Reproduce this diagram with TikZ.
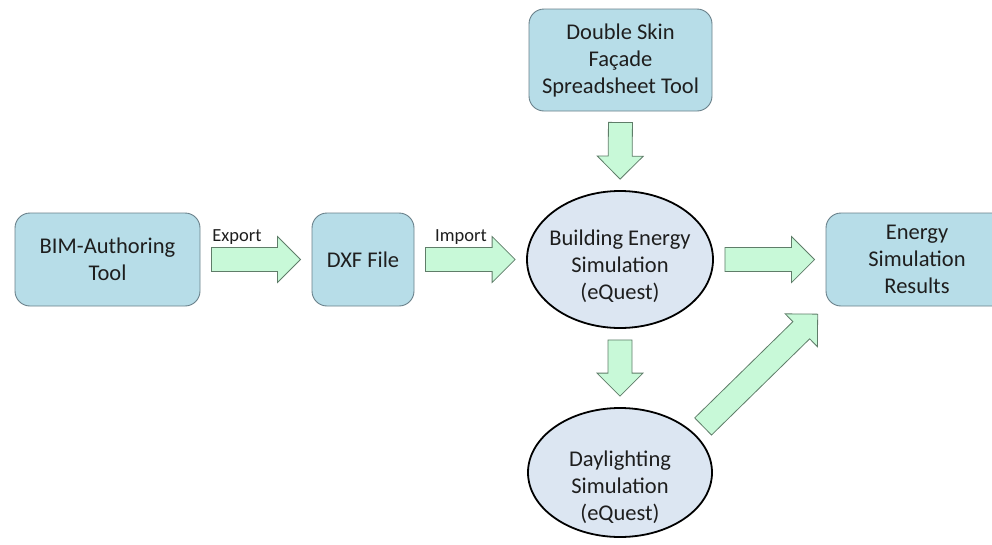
\documentclass[tikz,border=0pt]{standalone}
\usepackage{fontspec}
\setmainfont{Carlito}
\usepackage{tikz}
\usetikzlibrary{shapes,calc,positioning}
\usepackage{xcolor}

\definecolor{boxfill}{RGB}{183,221,232}
\definecolor{boxedge}{RGB}{105,128,138}
\definecolor{ovalfill}{RGB}{220,230,242}
\definecolor{mint}{RGB}{200,249,216}
\definecolor{mintedge}{RGB}{95,125,105}
\definecolor{ink}{RGB}{30,30,30}

% block arrow between two anchors
\newcommand{\fatarrow}[2]{%
  \coordinate (fa-s) at ($(#1)!11pt!(#2)$);
  \coordinate (fa-t) at ($(#2)!11pt!(#1)$);
  \coordinate (fa-h) at ($(fa-t)!23pt!(fa-s)$);
  \filldraw[fat] ($(fa-s)!12pt!90:(fa-t)$) -- ($(fa-h)!12pt!90:(fa-t)$)
    -- ($(fa-h)!23pt!90:(fa-t)$) -- (fa-t) -- ($(fa-h)!23pt!-90:(fa-t)$)
    -- ($(fa-h)!12pt!-90:(fa-t)$) -- ($(fa-s)!12pt!-90:(fa-t)$) -- cycle;
}

\begin{document}
\begin{tikzpicture}[x=1pt,y=-1pt,
    box/.style={draw=boxedge,fill=boxfill,rounded corners=15pt,line width=0.9pt,
      align=center,text=ink,font=\fontsize{22.5}{27}\selectfont},
    oval/.style={ellipse,draw=black,line width=1.8pt,fill=ovalfill},
    ovaltext/.style={align=center,text=ink,font=\fontsize{22.5}{27}\selectfont},
    tag/.style={text=ink,font=\fontsize{18.5}{22}\selectfont},
    fat/.style={fill=mint,draw=mintedge,line width=0.8pt}]
  \path[use as bounding box,clip] (0,0) rectangle (992,544);

  \node[box,minimum width=185pt,minimum height=93pt] (bim) at (107.5,259.5) {BIM-Authoring\\Tool};
  \node[box,minimum width=102pt,minimum height=93pt] (dxf) at (363,259.5) {DXF File};
  \node[box,minimum width=183pt,minimum height=102pt] (dsf) at (620.5,60) {Double Skin\\Façade\\Spreadsheet Tool};
  \node[oval,minimum width=186pt,minimum height=137pt,
    label={[ovaltext,yshift=-7pt]center:Building Energy\\Simulation\\(eQuest)}] (be) at (620,259.5) {};
  \node[oval,minimum width=184pt,minimum height=129pt,
    label={[ovaltext,yshift=-15pt]center:Daylighting\\Simulation\\(eQuest)}] (day) at (620,472.5) {};
  \node[box,minimum width=182pt,minimum height=93pt] (res) at (917,259.5) {Energy\\Simulation\\Results};

  \fatarrow{bim.east}{dxf.west}
  \fatarrow{dxf.east}{be.west}
  \fatarrow{dsf.south}{be.north}
  \fatarrow{be.east}{res.west}
  \fatarrow{be.south}{day.north}
  \fatarrow{day.27}{res.south west}

  \node[tag] (exp) at (237,237) {Export};
  \node[tag] (imp) at (461,237) {Import};
\end{tikzpicture}
\end{document}
